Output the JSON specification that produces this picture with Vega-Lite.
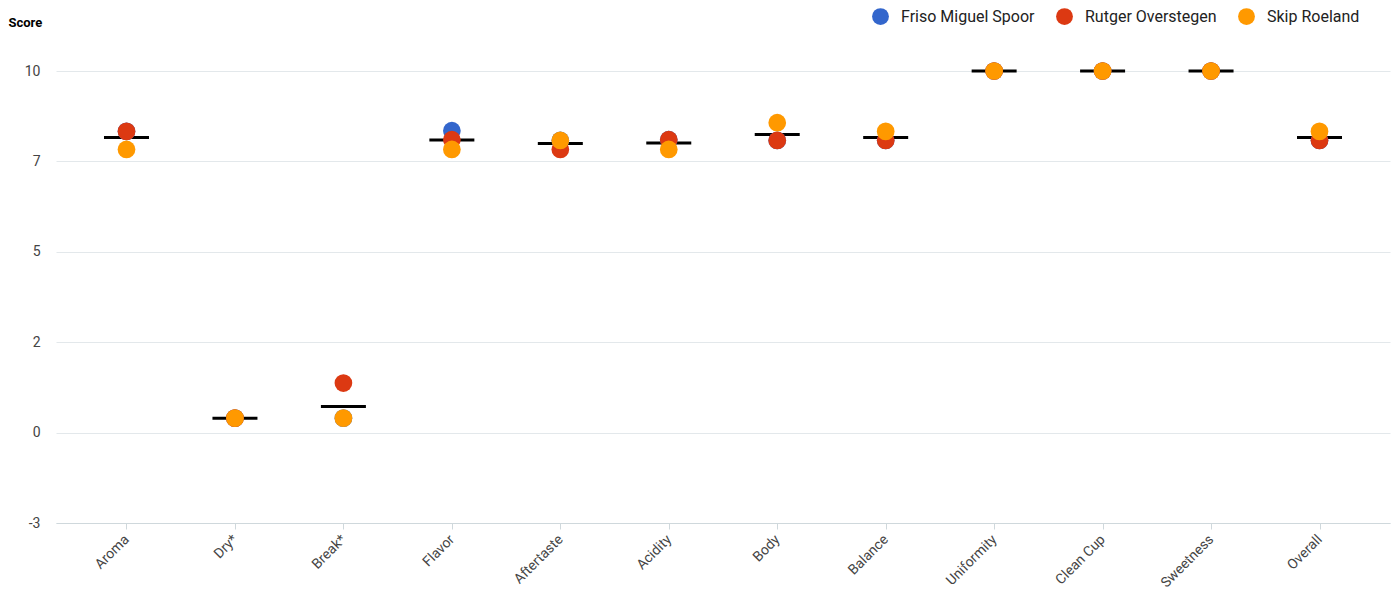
{
  "$schema": "https://vega.github.io/schema/vega-lite/v6.json",
  "autosize": {"type": "none"},
  "padding": {"left": 56, "top": 71, "right": 10, "bottom": 68},
  "width": 1334,
  "height": 452,
  "config": {
    "font": "Roboto",
    "view": {"stroke": null}
  },
  "data": {
    "values": [
      {"cat": "Aroma", "person": "Friso Miguel Spoor", "score": 8.33},
      {"cat": "Dry*", "person": "Friso Miguel Spoor", "score": 0.4},
      {"cat": "Break*", "person": "Friso Miguel Spoor", "score": 0.4},
      {"cat": "Flavor", "person": "Friso Miguel Spoor", "score": 8.35},
      {"cat": "Aftertaste", "person": "Friso Miguel Spoor", "score": 8.08},
      {"cat": "Acidity", "person": "Friso Miguel Spoor", "score": 8.1},
      {"cat": "Body", "person": "Friso Miguel Spoor", "score": 8.08},
      {"cat": "Balance", "person": "Friso Miguel Spoor", "score": 8.08},
      {"cat": "Uniformity", "person": "Friso Miguel Spoor", "score": 10},
      {"cat": "Clean Cup", "person": "Friso Miguel Spoor", "score": 10},
      {"cat": "Sweetness", "person": "Friso Miguel Spoor", "score": 10},
      {"cat": "Overall", "person": "Friso Miguel Spoor", "score": 8.08},
      {"cat": "Aroma", "person": "Rutger Overstegen", "score": 8.33},
      {"cat": "Dry*", "person": "Rutger Overstegen", "score": 0.4},
      {"cat": "Break*", "person": "Rutger Overstegen", "score": 1.37},
      {"cat": "Flavor", "person": "Rutger Overstegen", "score": 8.1},
      {"cat": "Aftertaste", "person": "Rutger Overstegen", "score": 7.83},
      {"cat": "Acidity", "person": "Rutger Overstegen", "score": 8.1},
      {"cat": "Body", "person": "Rutger Overstegen", "score": 8.08},
      {"cat": "Balance", "person": "Rutger Overstegen", "score": 8.08},
      {"cat": "Uniformity", "person": "Rutger Overstegen", "score": 10},
      {"cat": "Clean Cup", "person": "Rutger Overstegen", "score": 10},
      {"cat": "Sweetness", "person": "Rutger Overstegen", "score": 10},
      {"cat": "Overall", "person": "Rutger Overstegen", "score": 8.08},
      {"cat": "Aroma", "person": "Skip Roeland", "score": 7.83},
      {"cat": "Dry*", "person": "Skip Roeland", "score": 0.4},
      {"cat": "Break*", "person": "Skip Roeland", "score": 0.4},
      {"cat": "Flavor", "person": "Skip Roeland", "score": 7.83},
      {"cat": "Aftertaste", "person": "Skip Roeland", "score": 8.08},
      {"cat": "Acidity", "person": "Skip Roeland", "score": 7.83},
      {"cat": "Body", "person": "Skip Roeland", "score": 8.57},
      {"cat": "Balance", "person": "Skip Roeland", "score": 8.33},
      {"cat": "Uniformity", "person": "Skip Roeland", "score": 10},
      {"cat": "Clean Cup", "person": "Skip Roeland", "score": 10},
      {"cat": "Sweetness", "person": "Skip Roeland", "score": 10},
      {"cat": "Overall", "person": "Skip Roeland", "score": 8.33}
    ]
  },
  "encoding": {
    "x": {
      "field": "cat",
      "type": "nominal",
      "sort": null,
      "scale": {"type": "point", "padding": 0.65},
      "axis": {
        "title": null,
        "labelAngle": -45,
        "labelAlign": "right",
        "labelBaseline": "middle",
        "labelFontSize": 14,
        "labelColor": "#444444",
        "labelPadding": 8,
        "domainColor": "#cfd8dc",
        "tickColor": "#cfd8dc",
        "tickSize": 6,
        "grid": false
      }
    }
  },
  "layer": [
    {
      "mark": {"type": "tick", "color": "#000000", "size": 45, "thickness": 3, "opacity": 1},
      "encoding": {
        "y": {
          "aggregate": "mean",
          "field": "score",
          "type": "quantitative",
          "scale": {"domain": [-2.5, 10], "nice": false, "zero": false},
          "axis": {
            "values": [-2.5, 0, 2.5, 5, 7.5, 10],
            "labelExpr": "floor(datum.value)",
            "title": "Score",
            "titleAngle": 0,
            "titleAlign": "left",
            "titleBaseline": "middle",
            "titleX": -48,
            "titleY": -49,
            "titleFontSize": 13,
            "titleFontWeight": "bold",
            "titleColor": "#000000",
            "labelFontSize": 14,
            "labelColor": "#444444",
            "labelPadding": 16,
            "ticks": false,
            "domain": false,
            "gridColor": "#e3e8eb",
            "gridWidth": 1
          }
        }
      }
    },
    {
      "mark": {"type": "point", "filled": true, "opacity": 1, "size": 314, "shape": "circle"},
      "encoding": {
        "y": {"field": "score", "type": "quantitative"},
        "color": {
          "field": "person",
          "type": "nominal",
          "scale": {
            "domain": ["Friso Miguel Spoor", "Rutger Overstegen", "Skip Roeland"],
            "range": ["#3366cc", "#dc3912", "#ff9900"]
          },
          "legend": {
            "orient": "none",
            "direction": "horizontal",
            "legendX": 816,
            "legendY": -63,
            "title": null,
            "symbolType": "circle",
            "symbolSize": 283,
            "symbolStrokeWidth": 0,
            "symbolOpacity": 1,
            "labelFontSize": 16,
            "labelColor": "#222222",
            "labelOffset": 12,
            "columnPadding": 21,
            "padding": 0
          }
        }
      }
    }
  ]
}
